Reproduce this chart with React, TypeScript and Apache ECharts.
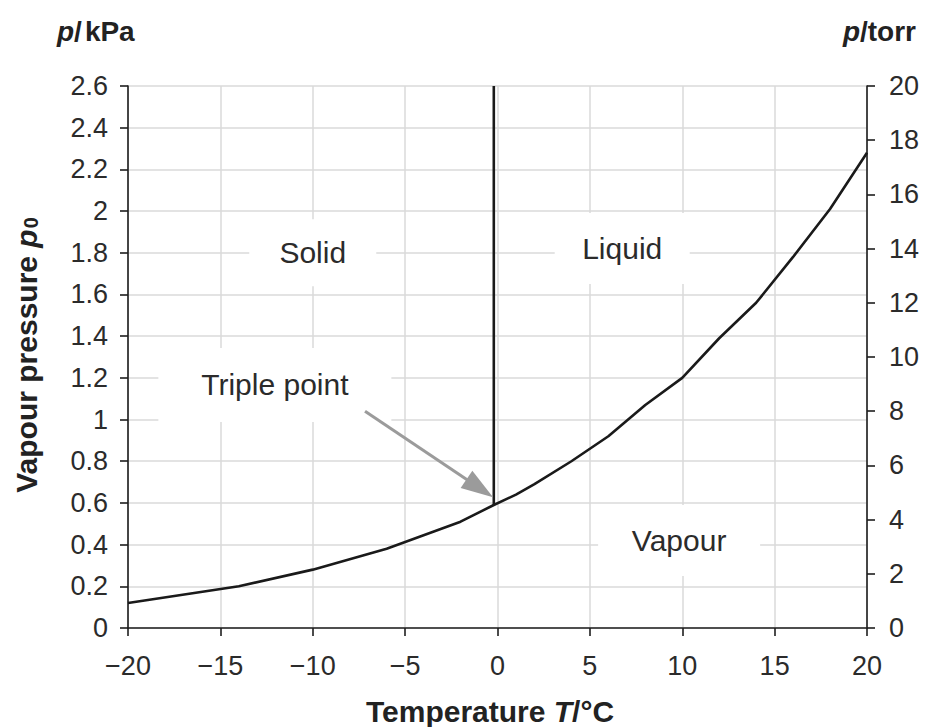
import React, { useEffect, useRef } from 'react';
import * as echarts from 'echarts';

// ---- data ----
const temperatureC = [-20, -14, -10, -6, -2, -0.2, 1, 2, 4, 6, 8, 10, 12, 14, 16, 18, 20];
const vapourPressureKPa = [0.12, 0.2, 0.28, 0.38, 0.51, 0.59, 0.64, 0.69, 0.8, 0.92, 1.07, 1.2, 1.39, 1.56, 1.78, 2.01, 2.28];
const meltingLineT = [-0.2, -0.2];
const meltingLineP = [0.59, 2.6];
const arrowFrom = [-7.17, 1.04];
const arrowTo = [-0.96, 0.67];
const regionLabels = ['Solid', 'Liquid', 'Vapour', 'Triple point'];
const kPaAxis = { min: 0, max: 2.6, interval: 0.2 };
const torrAxis = { min: 0, max: 20, interval: 2 };
const tempAxis = { min: -20, max: 20, interval: 5 };

// ---- layout (positions of annotations in data coordinates, box sizes in px) ----
const labelLayout = [
  { T: -10, p: 1.8, w: 127, h: 67 },
  { T: 6.75, p: 1.82, w: 135, h: 71 },
  { T: 9.83, p: 0.42, w: 162, h: 71 },
  { T: -12.05, p: 1.166, w: 233, h: 74 },
];

const FONT = '"Liberation Sans", Arial, Helvetica, sans-serif';
const TEXT = '#2b2b2b';
const AXIS = '#1e1e1e';
const GRID = '#dadada';

export default function App() {
  const ref = useRef<HTMLDivElement>(null);
  useEffect(() => {
    if (!ref.current) return;
    const chart = echarts.init(ref.current, null, { renderer: 'svg' });
    const curve = temperatureC.map((t, i) => [t, vapourPressureKPa[i]]);
    const melt = meltingLineT.map((t, i) => [t, meltingLineP[i]]);
    const tickFmt = (v: number) => (v < 0 ? '\u2212' + Math.abs(v) : String(v));
    const axisLabel = { fontSize: 27, color: TEXT, fontFamily: FONT };
    const option: any = {
      animation: false,
      backgroundColor: '#ffffff',
      grid: { left: 128, right: 59, top: 86, bottom: 99, containLabel: false },
      xAxis: {
        type: 'value',
        min: tempAxis.min,
        max: tempAxis.max,
        interval: tempAxis.interval,
        axisLine: { show: true, onZero: false, lineStyle: { color: AXIS, width: 1.6 } },
        axisTick: { show: true, length: 8, lineStyle: { color: AXIS, width: 1.6 } },
        axisLabel: { ...axisLabel, margin: 24, formatter: tickFmt },
        splitLine: { show: true, lineStyle: { color: GRID, width: 1.5 } },
      },
      yAxis: [
        {
          type: 'value',
          position: 'left',
          min: kPaAxis.min,
          max: kPaAxis.max,
          interval: kPaAxis.interval,
          axisLine: { show: true, onZero: false, lineStyle: { color: AXIS, width: 1.6 } },
          axisTick: { show: true, length: 8, lineStyle: { color: AXIS, width: 1.6 } },
          axisLabel: { ...axisLabel, margin: 20, formatter: (v: number) => String(Math.round(v * 10) / 10) },
          splitLine: { show: true, lineStyle: { color: GRID, width: 1.5 } },
        },
        {
          type: 'value',
          position: 'right',
          min: torrAxis.min,
          max: torrAxis.max,
          interval: torrAxis.interval,
          axisLine: { show: true, onZero: false, lineStyle: { color: AXIS, width: 1.6 } },
          axisTick: { show: true, length: 8, lineStyle: { color: AXIS, width: 1.6 } },
          axisLabel: { ...axisLabel, margin: 22 },
          splitLine: { show: false },
        },
      ],
      series: [
        {
          type: 'line',
          data: curve,
          symbol: 'none',
          z: 3,
          lineStyle: { color: '#1a1a1a', width: 2.6 },
          markLine: {
            silent: true,
            animation: false,
            symbol: ['none', 'triangle'],
            lineStyle: { color: '#9b9b9b', width: 3, type: 'solid' },
            label: { show: false },
            emphasis: { disabled: true },
            data: [
              [
                { coord: arrowFrom, symbol: 'none' },
                { coord: arrowTo, symbol: 'triangle', symbolSize: [21, 32] },
              ],
            ],
          },
        },
        {
          type: 'line',
          data: melt,
          symbol: 'none',
          z: 3,
          lineStyle: { color: '#1a1a1a', width: 2.6 },
        },
      ],
    };
    chart.setOption(option);

    const graphic: any[] = [];
    labelLayout.forEach((l, i) => {
      const [cx, cy] = chart.convertToPixel({ xAxisIndex: 0, yAxisIndex: 0 }, [l.T, l.p]) as number[];
      graphic.push({
        type: 'rect',
        z: 1,
        silent: true,
        shape: { x: cx - l.w / 2, y: cy - l.h / 2, width: l.w, height: l.h },
        style: { fill: '#ffffff' },
      });
      graphic.push({
        type: 'text',
        z: 2,
        silent: true,
        x: cx,
        y: cy,
        style: {
          text: regionLabels[i],
          fontSize: 30,
          fontFamily: FONT,
          fill: TEXT,
          align: 'center',
          verticalAlign: 'middle',
        },
      });
    });
    const b = { fontSize: 28, fontWeight: 'bold', fontFamily: FONT, fill: '#222' };
    const bi = { ...b, fontStyle: 'italic' };
    const b2 = { ...b, fontSize: 30 };
    const bi2 = { ...bi, fontSize: 30 };
    graphic.push({
      type: 'text',
      x: 57,
      y: 31,
      style: { text: '{i|p}{b|/}{k|kPa}', rich: { i: bi, b, k: { ...b, padding: [0, 0, 0, 3] } }, align: 'left', verticalAlign: 'middle' },
    });
    graphic.push({
      type: 'text',
      x: 916,
      y: 31,
      style: { text: '{i|p}{b|/torr}', rich: { i: bi, b }, align: 'right', verticalAlign: 'middle' },
    });
    graphic.push({
      type: 'text',
      x: 490,
      y: 711,
      style: {
        text: '{b|Temperature }{i|T}{b|/\u00B0C}',
        rich: { i: bi2, b: b2 },
        align: 'center',
        verticalAlign: 'middle',
      },
    });
    graphic.push({
      type: 'text',
      x: 26,
      y: 355,
      rotation: Math.PI / 2,
      style: {
        text: '{b|Vapour pressure }{i|p}{s|0}',
        rich: {
          i: bi2,
          b: b2,
          s: { ...b, fontSize: 20, verticalAlign: 'bottom', padding: [0, 0, 0, 1] },
        },
        align: 'center',
        verticalAlign: 'middle',
      },
    });
    chart.setOption({ graphic });

    return () => chart.dispose();
  }, []);
  return <div ref={ref} style={{ position: 'absolute', left: 0, top: 0, width: 926, height: 727 }} />;
}
